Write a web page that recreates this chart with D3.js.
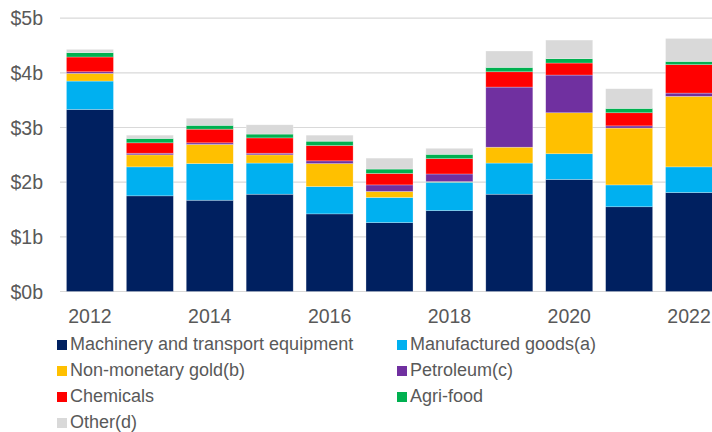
<!DOCTYPE html>
<html>
<head>
<meta charset="utf-8">
<script src="https://cdn.jsdelivr.net/npm/d3@7"></script>
<style>
  html, body { margin: 0; padding: 0; background: #fff; }
  svg { display: block; }
  text { font-family: "Liberation Sans", Arial, sans-serif; fill: #595959; }
</style>
</head>
<body>
<svg id="chart" width="712" height="432"></svg>
<script>
const years = ["2012","2013","2014","2015","2016","2017","2018","2019","2020","2021","2022"];
const tickYears = ["2012","2014","2016","2018","2020","2022"];
const yTicks = [0, 1, 2, 3, 4, 5];
const yTickLabels = ["$0b","$1b","$2b","$3b","$4b","$5b"];

const seriesNames = [
  "Machinery and transport equipment",
  "Manufactured goods(a)",
  "Non-monetary gold(b)",
  "Petroleum(c)",
  "Chemicals",
  "Agri-food",
  "Other(d)"
];
const seriesColors = ["#002060","#00B0F0","#FFC000","#7030A0","#FF0000","#00B050","#D9D9D9"];

const machinery    = [3.33, 1.75, 1.67, 1.78, 1.42, 1.26, 1.48, 1.78, 2.05, 1.55, 1.81];
const manufactured = [0.52, 0.53, 0.67, 0.57, 0.50, 0.46, 0.52, 0.57, 0.47, 0.40, 0.47];
const gold         = [0.14, 0.22, 0.35, 0.15, 0.42, 0.11, 0.01, 0.29, 0.75, 1.04, 1.29];
const petroleum    = [0.03, 0.03, 0.03, 0.03, 0.05, 0.12, 0.14, 1.10, 0.69, 0.04, 0.06];
const chemicals    = [0.27, 0.19, 0.25, 0.28, 0.28, 0.21, 0.28, 0.28, 0.22, 0.24, 0.52];
const agrifood     = [0.08, 0.08, 0.07, 0.07, 0.08, 0.08, 0.08, 0.08, 0.08, 0.08, 0.06];
const other        = [0.06, 0.06, 0.13, 0.17, 0.11, 0.20, 0.11, 0.30, 0.34, 0.36, 0.42];

const seriesValues = [machinery, manufactured, gold, petroleum, chemicals, agrifood, other];
const keys = seriesNames;

const table = years.map((y, i) => {
  const row = { year: y };
  keys.forEach((k, j) => row[k] = seriesValues[j][i]);
  return row;
});

const svg = d3.select("#chart");

const x = d3.scaleBand().domain(years).range([60, 719]).paddingInner(0.215).paddingOuter(0.1075);
const y = d3.scaleLinear().domain([0, 5]).range([291.5, 18.2]);

// gridlines
svg.append("g").selectAll("line").data(yTicks).join("line")
  .attr("x1", 60).attr("x2", 712)
  .attr("y1", d => y(d)).attr("y2", d => y(d))
  .attr("stroke", "#D9D9D9").attr("stroke-width", 1.2);

// y labels
svg.append("g").selectAll("text").data(yTicks).join("text")
  .attr("x", 43).attr("y", d => y(d) + 7)
  .attr("text-anchor", "end")
  .style("font-size", "19.5px")
  .text((d, i) => yTickLabels[i]);

// stacked bars
const stack = d3.stack().keys(keys);
const stacked = stack(table);

svg.append("g").selectAll("g").data(stacked).join("g")
  .attr("fill", (d, i) => seriesColors[i])
  .selectAll("rect").data(d => d).join("rect")
  .attr("x", d => x(d.data.year))
  .attr("width", x.bandwidth())
  .attr("y", d => y(d[1]))
  .attr("height", d => Math.max(0, y(d[0]) - y(d[1])))
  .attr("stroke", "#ffffff").attr("stroke-opacity", 0.45).attr("stroke-width", 0.6);

// x labels
svg.append("g").selectAll("text").data(tickYears).join("text")
  .attr("x", d => x(d) + x.bandwidth() / 2)
  .attr("y", 322.5)
  .attr("text-anchor", "middle")
  .style("font-size", "19.5px")
  .text(d => d);

// legend
const legendPos = seriesNames.map((n, i) => ({
  name: n, color: seriesColors[i],
  col: i % 2, row: Math.floor(i / 2)
}));
const colX = [57, 397];
const rowY = [350, 376, 402, 428];
const lg = svg.append("g").selectAll("g").data(legendPos).join("g")
  .attr("transform", d => `translate(${colX[d.col]},${rowY[d.row]})`);
lg.append("rect").attr("x", 0).attr("y", -10).attr("width", 10).attr("height", 10)
  .attr("fill", d => d.color);
lg.append("text").attr("x", 13).attr("y", 0)
  .style("font-size", "18px")
  .text(d => d.name);
</script>
</body>
</html>
